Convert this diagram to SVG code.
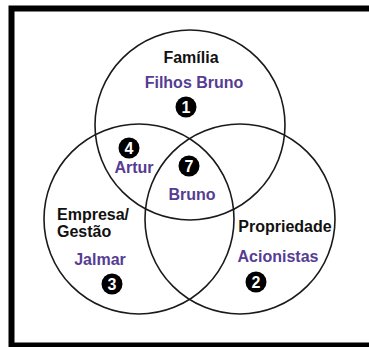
<svg xmlns="http://www.w3.org/2000/svg" width="369" height="347" viewBox="0 0 369 347">
<style>
.ring{fill:none;stroke:#1a1a1a;stroke-width:1.6}
.t{font-family:"Liberation Sans",Arial,sans-serif;font-weight:bold;font-size:16px;fill:#111}
.p{font-family:"Liberation Sans",Arial,sans-serif;font-weight:bold;font-size:16px;fill:#563c93}
.b circle{fill:#000}
.b text{font-family:"Liberation Sans",Arial,sans-serif;font-weight:bold;font-size:16px;fill:#fff;text-anchor:middle}
</style>
<rect x="0" y="0" width="369" height="347" fill="#fff"/>
<rect x="11.5" y="8.5" width="400" height="337" fill="none" stroke="#000" stroke-width="6"/>
<g id="familia">
<circle class="ring" cx="190" cy="125" r="95"/>
<text class="t" x="191" y="63" text-anchor="middle">Família</text>
<text class="p" x="194" y="88" text-anchor="middle">Filhos Bruno</text>
<g class="b"><circle cx="186" cy="107" r="10.5"/><text x="186" y="112.8">1</text></g>
</g>
<g id="empresa">
<circle class="ring" cx="139" cy="219" r="95"/>
<text class="t" x="57" y="220">Empresa/</text>
<text class="t" x="57" y="237">Gestão</text>
<text class="p" x="100" y="265" text-anchor="middle">Jalmar</text>
<g class="b"><circle cx="112" cy="284" r="10.5"/><text x="112" y="289.8">3</text></g>
</g>
<g id="propriedade">
<circle class="ring" cx="240" cy="219" r="95"/>
<text class="t" x="285" y="232" text-anchor="middle">Propriedade</text>
<text class="p" x="278" y="262" text-anchor="middle">Acionistas</text>
<g class="b"><circle cx="256" cy="282" r="10.5"/><text x="256" y="287.8">2</text></g>
</g>
<g id="familia-empresa">
<g class="b"><circle cx="129" cy="148" r="10.5"/><text x="129" y="153.8">4</text></g>
<text class="p" x="134" y="173" text-anchor="middle">Artur</text>
</g>
<g id="centro">
<g class="b"><circle cx="189" cy="166" r="10.5"/><text x="189" y="171.8">7</text></g>
<text class="p" x="192" y="200" text-anchor="middle">Bruno</text>
</g>
<g id="connectors"></g>
</svg>
